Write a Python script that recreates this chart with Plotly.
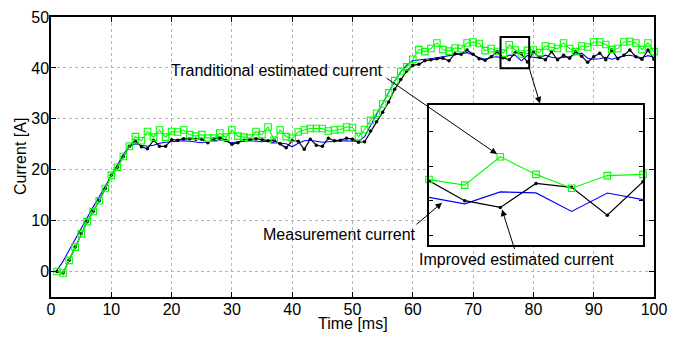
import plotly.graph_objects as go

# ---- data -------------------------------------------------------------
time_ms = list(range(1, 101))

measured = [
    0.3, 2.0, 4.2, 6.4, 8.6, 10.7, 12.7, 14.7, 16.8, 19.0,
    21.0, 23.0, 24.6, 25.1, 24.8, 24.6, 24.8, 25.2, 25.4, 25.5,
    25.6, 25.7, 25.6, 25.4, 25.3, 25.5, 25.7, 25.9, 25.6, 25.3,
    25.5, 25.7, 25.7, 25.6, 25.5, 25.6, 25.3, 25.2, 25.1, 24.5,
    25.2, 25.7, 25.8, 25.6, 25.4, 25.5, 25.6, 25.7, 25.7, 25.6,
    25.6, 26.5, 28.8, 30.9, 33.0, 35.2, 37.4, 39.2, 40.6, 41.4,
    41.6, 41.7, 41.8, 42.0, 42.2, 42.4, 42.7, 42.9, 43.0, 42.6,
    42.0, 41.7, 42.1, 42.19, 41.82, 42.51, 42.45, 41.38, 42.44, 42.06,
    42.0, 42.5, 42.1, 41.9, 42.0, 42.2, 42.7, 42.9, 41.9, 41.7,
    41.8, 42.1, 41.7, 42.0, 42.4, 42.5, 42.2, 42.0, 42.4, 42.1,
]

traditional = [
    0.0, -0.3, 2.2, 4.8, 7.4, 9.8, 11.8, 13.9, 16.3, 18.9,
    20.5, 22.6, 24.6, 26.5, 25.7, 27.5, 26.4, 27.8, 26.4, 27.5,
    27.4, 27.8, 26.9, 26.6, 26.9, 26.2, 26.2, 27.2, 26.4, 27.8,
    26.6, 26.4, 26.2, 27.5, 26.9, 28.4, 25.8, 27.8, 26.5, 26.2,
    27.4, 27.8, 28.1, 28.1, 28.1, 27.6, 27.8, 27.9, 28.4, 28.3,
    26.5, 27.9, 29.7, 31.1, 32.9, 35.1, 37.5, 39.3, 40.2, 41.7,
    43.6, 43.2, 43.8, 44.9, 43.6, 43.3, 43.9, 43.8, 44.9, 45.1,
    44.8, 43.4, 43.8, 43.22, 42.90, 44.54, 43.52, 42.72, 43.45, 43.52,
    43.0, 44.3, 44.1, 43.8, 44.9, 43.8, 43.2, 44.3, 44.1, 45.1,
    45.1, 44.6, 43.6, 43.8, 45.1, 45.2, 44.9, 43.6, 44.9, 43.2,
]

improved = [
    0.0, -0.3, 2.2, 4.8, 7.4, 9.8, 11.8, 13.9, 16.3, 18.9,
    20.5, 22.6, 24.6, 25.7, 24.5, 24.1, 25.8, 24.6, 24.6, 25.9,
    25.8, 26.1, 26.1, 26.0, 26.0, 25.3, 26.1, 26.3, 25.8, 25.0,
    25.3, 25.8, 25.9, 26.1, 25.9, 25.7, 25.8, 25.1, 24.3, 25.7,
    25.6, 24.0, 26.0, 24.8, 24.6, 26.2, 25.7, 25.8, 26.2, 26.0,
    25.4, 25.5, 27.6, 29.4, 31.3, 33.3, 35.8, 37.7, 39.4, 40.5,
    40.7, 41.4, 41.6, 41.8, 41.9, 41.4, 42.8, 42.7, 43.5, 42.7,
    41.8, 41.5, 42.2, 43.15, 42.00, 41.61, 43.00, 42.77, 41.16, 43.10,
    42.1, 41.6, 43.2, 41.6, 42.5, 41.9, 43.2, 42.3, 41.1, 42.2,
    42.9, 41.6, 43.5, 41.8, 42.5, 43.5, 42.2, 41.7, 43.5, 41.7,
]

x_ticks = list(range(0, 101, 10))
y_ticks = list(range(0, 51, 10))
inset_x_range = [74, 80]
inset_y_range = [39.47, 47.5]
inset_y_ticks = [40, 42, 44, 46]

# ---- styling ------------------------------------------------------------
FONT = "Liberation Sans, Arial, Helvetica, sans-serif"
BLUE = "#0000ff"
GREEN = "#00ff00"
BLACK = "#000000"

W, H = 695, 337
L, R, T, B = 51, 654, 9, 297          # plot area in pixels
PW, PH = R - L, B - T


def px(x):
    return (x - L) / PW


def py(y):
    return (B - y) / PH


fig = go.Figure()


def add_series(xs, blue, green, black, xa, ya, clip):
    fig.add_trace(go.Scatter(x=xs, y=blue, mode="lines", xaxis=xa, yaxis=ya,
                             line=dict(color=BLUE, width=1.1),
                             cliponaxis=clip, showlegend=False,
                             name="Measurement current"))
    fig.add_trace(go.Scatter(x=xs, y=black, mode="lines+markers", xaxis=xa, yaxis=ya,
                             line=dict(color=BLACK, width=1.2),
                             marker=dict(symbol="circle", size=3.5, color=BLACK),
                             cliponaxis=clip, showlegend=False,
                             name="Improved estimated current"))
    fig.add_trace(go.Scatter(x=xs, y=green, mode="lines+markers", xaxis=xa, yaxis=ya,
                             line=dict(color=GREEN, width=1.1),
                             marker=dict(symbol="square-open", size=6.5,
                                         color=GREEN, line=dict(width=1.1, color=GREEN)),
                             cliponaxis=clip, showlegend=False,
                             name="Tranditional estimated current"))


# main axes
add_series(time_ms, measured, traditional, improved, "x", "y", False)

# zoomed inset: samples inside the zoom window
sel = [i for i, t in enumerate(time_ms) if inset_x_range[0] <= t <= inset_x_range[1]]
add_series([time_ms[i] for i in sel],
           [measured[i] for i in sel],
           [traditional[i] for i in sel],
           [improved[i] for i in sel], "x2", "y2", False)

axis_common = dict(
    showline=True, linecolor=BLACK, linewidth=1.5,
    ticks="inside", ticklen=5, tickcolor=BLACK, tickwidth=1,
    mirror="ticks", zeroline=False,
    showgrid=True, griddash="dot", gridcolor="#b4b4b4", gridwidth=1,
    tickfont=dict(family=FONT, size=16, color=BLACK),
    ticklabelstandoff=-3,
)

inset_x0, inset_x1 = 429, 643
inset_y0, inset_y1 = 100, 243

fig.update_layout(
    width=W, height=H,
    margin=dict(l=L, r=W - R, t=T, b=H - B, pad=0),
    paper_bgcolor="white", plot_bgcolor="white",
    font=dict(family=FONT, size=16, color=BLACK),
    showlegend=False,
    xaxis=dict(range=[0, 100], tickvals=x_ticks, domain=[0, 1], anchor="y",
               **axis_common),
    yaxis=dict(range=[-5, 50], tickvals=y_ticks, domain=[0, 1], anchor="x",
               **axis_common),
    xaxis2=dict(range=inset_x_range, domain=[px(inset_x0), px(inset_x1)], anchor="y2",
                showline=True, linecolor=BLACK, linewidth=2, mirror=True,
                ticks="", showticklabels=False, showgrid=False, zeroline=False),
    yaxis2=dict(range=inset_y_range, domain=[py(inset_y1), py(inset_y0)], anchor="x2",
                tickvals=inset_y_ticks, showline=True, linecolor=BLACK, linewidth=2,
                mirror="ticks", ticks="inside", ticklen=4, tickcolor=BLACK,
                showticklabels=False, showgrid=False, zeroline=False),
)

# box marking the zoomed region on the main axes
fig.add_shape(type="rect", xref="x", yref="y", x0=74.55, x1=79.3, y0=39.95, y1=46.05,
              line=dict(color=BLACK, width=2))

annotations = [
    # axis titles
    dict(text="Current [A]", x=px(20), y=py(153), textangle=-90),
    dict(text="Time [ms]", x=0.5, y=py(324)),
    # callout labels
    dict(text="Tranditional estimated current", x=px(277), y=py(64)),
    dict(text="Measurement current", x=px(339), y=py(233)),
    dict(text="Improved estimated current", x=px(516), y=py(258)),
]
for a in annotations:
    fig.add_annotation(xref="paper", yref="paper", showarrow=False,
                       xanchor="center", yanchor="middle",
                       font=dict(family=FONT, size=16, color=BLACK), **a)

# arrows: (tail_x, tail_y, head_x, head_y) in pixels
arrows = [
    (385, 73, 497, 150),
    (529, 62, 540, 98),
    (415, 223, 442, 200),
    (515, 248, 502, 207),
]
for tx, ty, hx, hy in arrows:
    fig.add_annotation(xref="paper", yref="paper", x=px(hx), y=py(hy),
                       ax=tx - hx, ay=ty - hy, axref="pixel", ayref="pixel",
                       text="", showarrow=True, arrowhead=2, arrowsize=1.3,
                       arrowwidth=1, arrowcolor=BLACK, standoff=0, startstandoff=0)

fig.write_html("out.html")
